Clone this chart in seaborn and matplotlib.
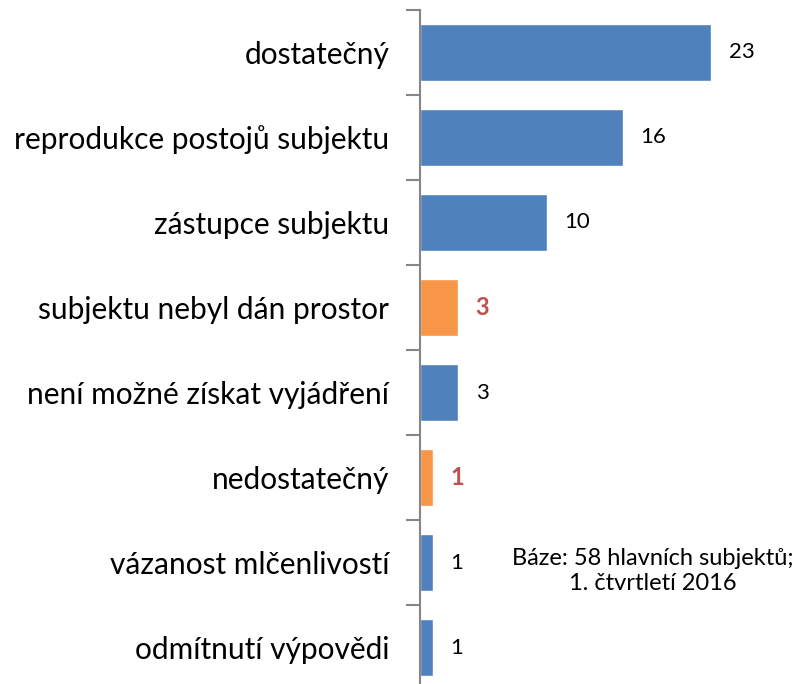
import matplotlib
matplotlib.use("Agg")
import pandas as pd
import matplotlib.pyplot as plt
import seaborn as sns
from matplotlib.ticker import FixedLocator

# data
categories = ["dostatečný", "reprodukce postojů subjektu", "zástupce subjektu",
              "subjektu nebyl dán prostor", "není možné získat vyjádření",
              "nedostatečný", "vázanost mlčenlivostí", "odmítnutí výpovědi"]
values = [23, 16, 10, 3, 3, 1, 1, 1]
highlight = [False, False, False, True, False, True, False, False]

blue = "#4F81BD"
orange = "#F79646"
red = "#C0504D"

df = pd.DataFrame({"kategorie": categories, "pocet": values})
palette = {c: (orange if h else blue) for c, h in zip(categories, highlight)}

sns.set_style("white")
plt.rcParams['font.family'] = ['Lato', 'DejaVu Sans']
plt.rcParams['text.color'] = 'black'

fig = plt.figure(figsize=(8, 6.84), dpi=100)
ax = fig.add_axes([0.525, -0.0088, 0.475, 0.9942])

sns.barplot(data=df, x="pocet", y="kategorie", hue="kategorie", palette=palette,
            legend=False, width=0.67, saturation=1, ax=ax)

ax.set_xlim(0, 30)
ax.set_ylim(len(categories) - 0.5, -0.5)
ax.set_xlabel("")
ax.set_ylabel("")
ax.set_xticks([])

for s in ["top", "right", "bottom"]:
    ax.spines[s].set_visible(False)
ax.spines["left"].set_color("#868686")
ax.spines["left"].set_linewidth(1.5)

ax.tick_params(axis="y", which="major", length=0, labelsize=21.5, pad=22, labelcolor="black")
ax.yaxis.set_minor_locator(FixedLocator([i - 0.5 for i in range(len(categories) + 1)]))
ax.tick_params(axis="y", which="minor", length=10, width=1.5, color="#868686", left=True)

for i, (v, h) in enumerate(zip(values, highlight)):
    ax.text(v + 1.4, i, str(v), va="center", ha="left",
            fontsize=17 if h else 16,
            color=red if h else "black",
            fontweight="bold" if h else "normal")

fig.text(0.816, 0.165, "Báze: 58 hlavních subjektů;\n1. čtvrtletí 2016",
         ha="center", va="center", fontsize=17, linespacing=1.2, color="black")

fig.savefig("out.png", dpi=100)
